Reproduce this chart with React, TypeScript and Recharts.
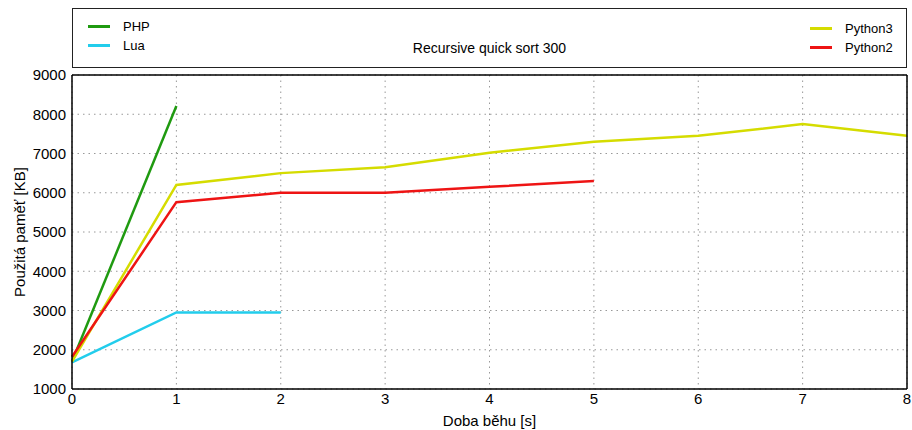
import React from "react";
import {
  LineChart, Line, XAxis, YAxis, CartesianGrid, Legend,
} from "recharts";

// x values (seconds) and memory usage per interpreter (KB)
const times = [0, 1, 2, 3, 4, 5, 6, 7, 8];
const php = [1700, 8210];
const lua = [1680, 2950, 2950];
const python3 = [1700, 6200, 6500, 6650, 7020, 7300, 7450, 7750, 7450];
const python2 = [1820, 5760, 6000, 6000, 6150, 6300];

const xTicks = [0, 1, 2, 3, 4, 5, 6, 7, 8];
const yTicks = [1000, 2000, 3000, 4000, 5000, 6000, 7000, 8000, 9000];

const series = [
  { key: "php", name: "PHP", color: "#1f9a10", values: php },
  { key: "lua", name: "Lua", color: "#22cdec", values: lua },
  { key: "py3", name: "Python3", color: "#d5dc00", values: python3 },
  { key: "py2", name: "Python2", color: "#ee1414", values: python2 },
];

const leftNames = ["PHP", "Lua"];
const rightNames = ["Python3", "Python2"];

const data = times.map((t, i) => {
  const row: Record<string, number | undefined> = { t };
  series.forEach((s) => (row[s.key] = s.values[i]));
  return row;
});

const FONT = "'Liberation Sans', Arial, sans-serif";

function LegendBox({ payload }: any) {
  const items = (payload || []) as any[];
  const pick = (names: string[]) =>
    names.map((n) => items.find((p) => p.value === n)).filter(Boolean);
  const row = (p: any) => (
    <div key={p.value} style={{ display: "flex", alignItems: "center", height: 19 }}>
      <span style={{ display: "inline-block", width: 22, height: 3, background: p.color, marginRight: 13 }} />
      <span>{p.value}</span>
    </div>
  );
  return (
    <div
      style={{
        position: "relative", width: 835, height: 60, boxSizing: "border-box",
        border: "1.5px solid #222", fontFamily: FONT, fontSize: 13, color: "#000",
        background: "#fff",
      }}
    >
      <div style={{ position: "absolute", left: 15, top: 8 }}>{pick(leftNames).map(row)}</div>
      <div style={{ position: "absolute", left: 737, top: 10 }}>{pick(rightNames).map(row)}</div>
      <div style={{ position: "absolute", left: 0, right: 0, top: 31, textAlign: "center", fontSize: 14 }}>
        Recursive quick sort 300
      </div>
    </div>
  );
}

const tickStyle = { fontSize: 15, fill: "#000", fontFamily: FONT };

export default function App() {
  return (
    <div style={{ position: "absolute", left: 0, top: 0, width: 912, height: 430, background: "#fff" }}>
      <LineChart
        width={912}
        height={430}
        data={data}
        margin={{ top: 75, right: 5, bottom: 0, left: 0 }}
      >
        <CartesianGrid stroke="#999" strokeDasharray="1.5 4" />
        <XAxis
          dataKey="t"
          type="number"
          domain={[0, 8]}
          ticks={xTicks}
          height={41}
          tickLine={false}
          tickSize={0}
          tickMargin={4}
          tick={tickStyle}
          axisLine={{ stroke: "#000", strokeWidth: 1.5 }}
          label={{ value: "Doba běhu [s]", position: "insideBottom", offset: 4, style: { fontSize: 15, fill: "#000", fontFamily: FONT } }}
        />
        <YAxis
          type="number"
          domain={[1000, 9000]}
          ticks={yTicks}
          width={72}
          tickLine={false}
          tickSize={0}
          tickMargin={6}
          tick={tickStyle}
          axisLine={{ stroke: "#000", strokeWidth: 1.5 }}
          label={(props: any) => {
            const vb = props.viewBox;
            const cx = 19;
            const cy = vb.y + vb.height / 2;
            return (
              <text x={cx} y={cy} transform={`rotate(-90 ${cx} ${cy})`} textAnchor="middle"
                dominantBaseline="central" style={{ fontSize: 15, fill: "#000", fontFamily: FONT }}>
                Použitá paměť [KB]
              </text>
            );
          }}
        />
        {/* inward tick marks on all four sides, plus the frame */}
        <XAxis xAxisId="bottomIn" dataKey="t" type="number" domain={[0, 8]} ticks={xTicks}
          orientation="bottom" mirror tick={false} tickSize={5} axisLine={false} stroke="#000" />
        <XAxis xAxisId="top" dataKey="t" type="number" domain={[0, 8]} ticks={xTicks}
          orientation="top" mirror tick={false} tickSize={5} axisLine={{ stroke: "#000", strokeWidth: 1.5 }} stroke="#000" />
        <YAxis yAxisId="leftIn" type="number" domain={[1000, 9000]} ticks={yTicks}
          orientation="left" mirror tick={false} tickSize={5} axisLine={false} stroke="#000" />
        <YAxis yAxisId="right" type="number" domain={[1000, 9000]} ticks={yTicks}
          orientation="right" mirror tick={false} tickSize={5} axisLine={{ stroke: "#000", strokeWidth: 1.5 }} stroke="#000" />
        <Legend
          layout="horizontal"
          verticalAlign="middle"
          align="center"
          wrapperStyle={{ position: "absolute", top: 8, left: 72, width: 835, height: 60 }}
          content={<LegendBox />}
        />
        {series.map((s) => (
          <Line
            key={s.key}
            dataKey={s.key}
            name={s.name}
            stroke={s.color}
            strokeWidth={2.5}
            dot={false}
            activeDot={false}
            isAnimationActive={false}
            type="linear"
          />
        ))}
      </LineChart>
    </div>
  );
}
